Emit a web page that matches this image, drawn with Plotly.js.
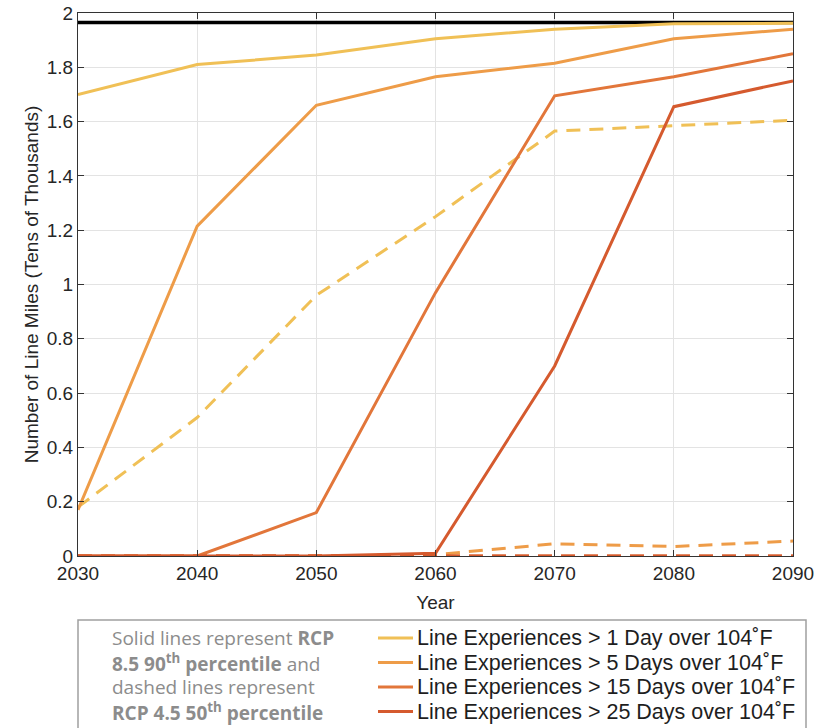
<!DOCTYPE html>
<html>
<head>
<meta charset="utf-8">
<script src="https://cdn.plot.ly/plotly-3.0.1.min.js"></script>
<style>html,body{margin:0;padding:0;background:#fff;}#chart{width:815px;height:728px;}</style>
</head>
<body>
<div id="chart"></div>
<script>
const years = [2030, 2040, 2050, 2060, 2070, 2080, 2090];
const totalMiles = [1.965, 1.965, 1.965, 1.965, 1.965, 1.965, 1.965];
// RCP 8.5 90th percentile (solid)
const rcp85_1day  = [1.70, 1.81, 1.845, 1.905, 1.94, 1.96, 1.962];
const rcp85_5day  = [0.17, 1.215, 1.66, 1.765, 1.815, 1.905, 1.94];
const rcp85_15day = [0.0, 0.0, 0.16, 0.97, 1.695, 1.765, 1.85];
const rcp85_25day = [0.0, 0.0, 0.0, 0.01, 0.70, 1.655, 1.75];
// RCP 4.5 50th percentile (dashed)
const rcp45_1day  = [0.18, 0.51, 0.96, 1.25, 1.565, 1.585, 1.605];
const rcp45_5day  = [0.0, 0.0, 0.0, 0.005, 0.045, 0.035, 0.055];
const rcp45_15day = [0.0, 0.0, 0.0, 0.0, 0.0, 0.0, 0.0];
const rcp45_25day = [0.0, 0.0, 0.0, 0.0, 0.0, 0.0, 0.0];
const seriesNames = [
  'Line Experiences > 1 Day over 104˚F',
  'Line Experiences > 5 Days over 104˚F',
  'Line Experiences > 15 Days over 104˚F',
  'Line Experiences > 25 Days over 104˚F'
];
const yTickVals = [0, 0.2, 0.4, 0.6, 0.8, 1, 1.2, 1.4, 1.6, 1.8, 2];
const yTickText = ['0', '0.2', '0.4', '0.6', '0.8', '1', '1.2', '1.4', '1.6', '1.8', '2'];
const noteLines = [
  'Solid lines represent <b>RCP</b>',
  '<b>8.5 90<sup>th</sup> percentile</b> and',
  'dashed lines represent',
  '<b>RCP 4.5 50<sup>th</sup> percentile</b>'
];

const colors = ['#F0C056', '#EE9C48', '#E2763A', '#D55A2E'];
const solid = [rcp85_1day, rcp85_5day, rcp85_15day, rcp85_25day];
const dashed = [rcp45_1day, rcp45_5day, rcp45_15day, rcp45_25day];

const traces = [];
traces.push({x: years, y: totalMiles, mode: 'lines', line: {color: '#000', width: 3.5}, showlegend: false, hoverinfo: 'skip'});
for (let i = 0; i < 4; i++) {
  traces.push({x: years, y: dashed[i], mode: 'lines', line: {color: colors[i], width: 3, dash: '14px,9px'}, showlegend: false, hoverinfo: 'skip'});
}
for (let i = 0; i < 4; i++) {
  traces.push({x: years, y: solid[i], name: seriesNames[i], mode: 'lines', line: {color: colors[i], width: 3}, showlegend: false, hoverinfo: 'skip'});
}

const W = 815, H = 728;
const plotL = 78, plotR = 793, plotT = 13, plotB = 556;
const pw = plotR - plotL, ph = plotB - plotT;
const px2x = p => (p - plotL) / pw;
const py2y = p => (plotB - p) / ph;

const rowY = [638, 662.5, 687, 711.5];
const annotations = noteLines.map((t, i) => ({
  text: t, xref: 'paper', yref: 'paper', x: px2x(110), y: py2y(rowY[i]),
  xanchor: 'left', yanchor: 'middle', showarrow: false,
  font: {family: '"Open Sans", Lato, sans-serif', size: 19, color: '#8c8c8c'}
}));
const shapes = [{
  type: 'rect', xref: 'paper', yref: 'paper',
  x0: px2x(78), x1: px2x(806), y0: py2y(740), y1: py2y(620),
  line: {color: '#a0a0a0', width: 1.5}, fillcolor: 'rgba(0,0,0,0)', layer: 'below'
}];
seriesNames.forEach((name, i) => {
  shapes.push({
    type: 'line', xref: 'paper', yref: 'paper',
    x0: px2x(378), x1: px2x(413), y0: py2y(rowY[i]), y1: py2y(rowY[i]),
    line: {color: colors[i], width: 3}
  });
  annotations.push({
    text: name, xref: 'paper', yref: 'paper', x: px2x(415), y: py2y(rowY[i]),
    xanchor: 'left', yanchor: 'middle', showarrow: false,
    font: {family: '"Liberation Sans", Arial, sans-serif', size: 21.5, color: '#1e1e1e'}
  });
});

const layout = {
  width: W, height: H,
  margin: {l: plotL, r: W - plotR, t: plotT, b: H - plotB},
  paper_bgcolor: '#fff', plot_bgcolor: '#fff',
  font: {family: '"Liberation Sans", Arial, sans-serif', size: 19, color: '#262626'},
  showlegend: false,
  xaxis: {
    range: [2030, 2090], tickvals: years, ticks: 'inside', ticklen: 6, tickcolor: '#333',
    showline: true, linecolor: '#333', linewidth: 1, mirror: 'ticks',
    showgrid: true, gridcolor: '#e3e3e3', gridwidth: 1, zeroline: false,
    tickfont: {size: 19, color: '#262626'},
    title: {text: 'Year', font: {size: 19, color: '#262626'}, standoff: 12}
  },
  yaxis: {
    range: [0, 2], tickvals: yTickVals, ticktext: yTickText, ticks: 'inside', ticklen: 6, tickcolor: '#333',
    showline: true, linecolor: '#333', linewidth: 1, mirror: 'ticks',
    showgrid: true, gridcolor: '#e3e3e3', gridwidth: 1, zeroline: false,
    tickfont: {size: 19, color: '#262626'},
    title: {text: 'Number of Line Miles (Tens of Thousands)', font: {size: 19, color: '#262626'}, standoff: 3}
  },
  shapes: shapes,
  annotations: annotations
};

Plotly.newPlot('chart', traces, layout, {displayModeBar: false, staticPlot: true});
</script>
</body>
</html>
